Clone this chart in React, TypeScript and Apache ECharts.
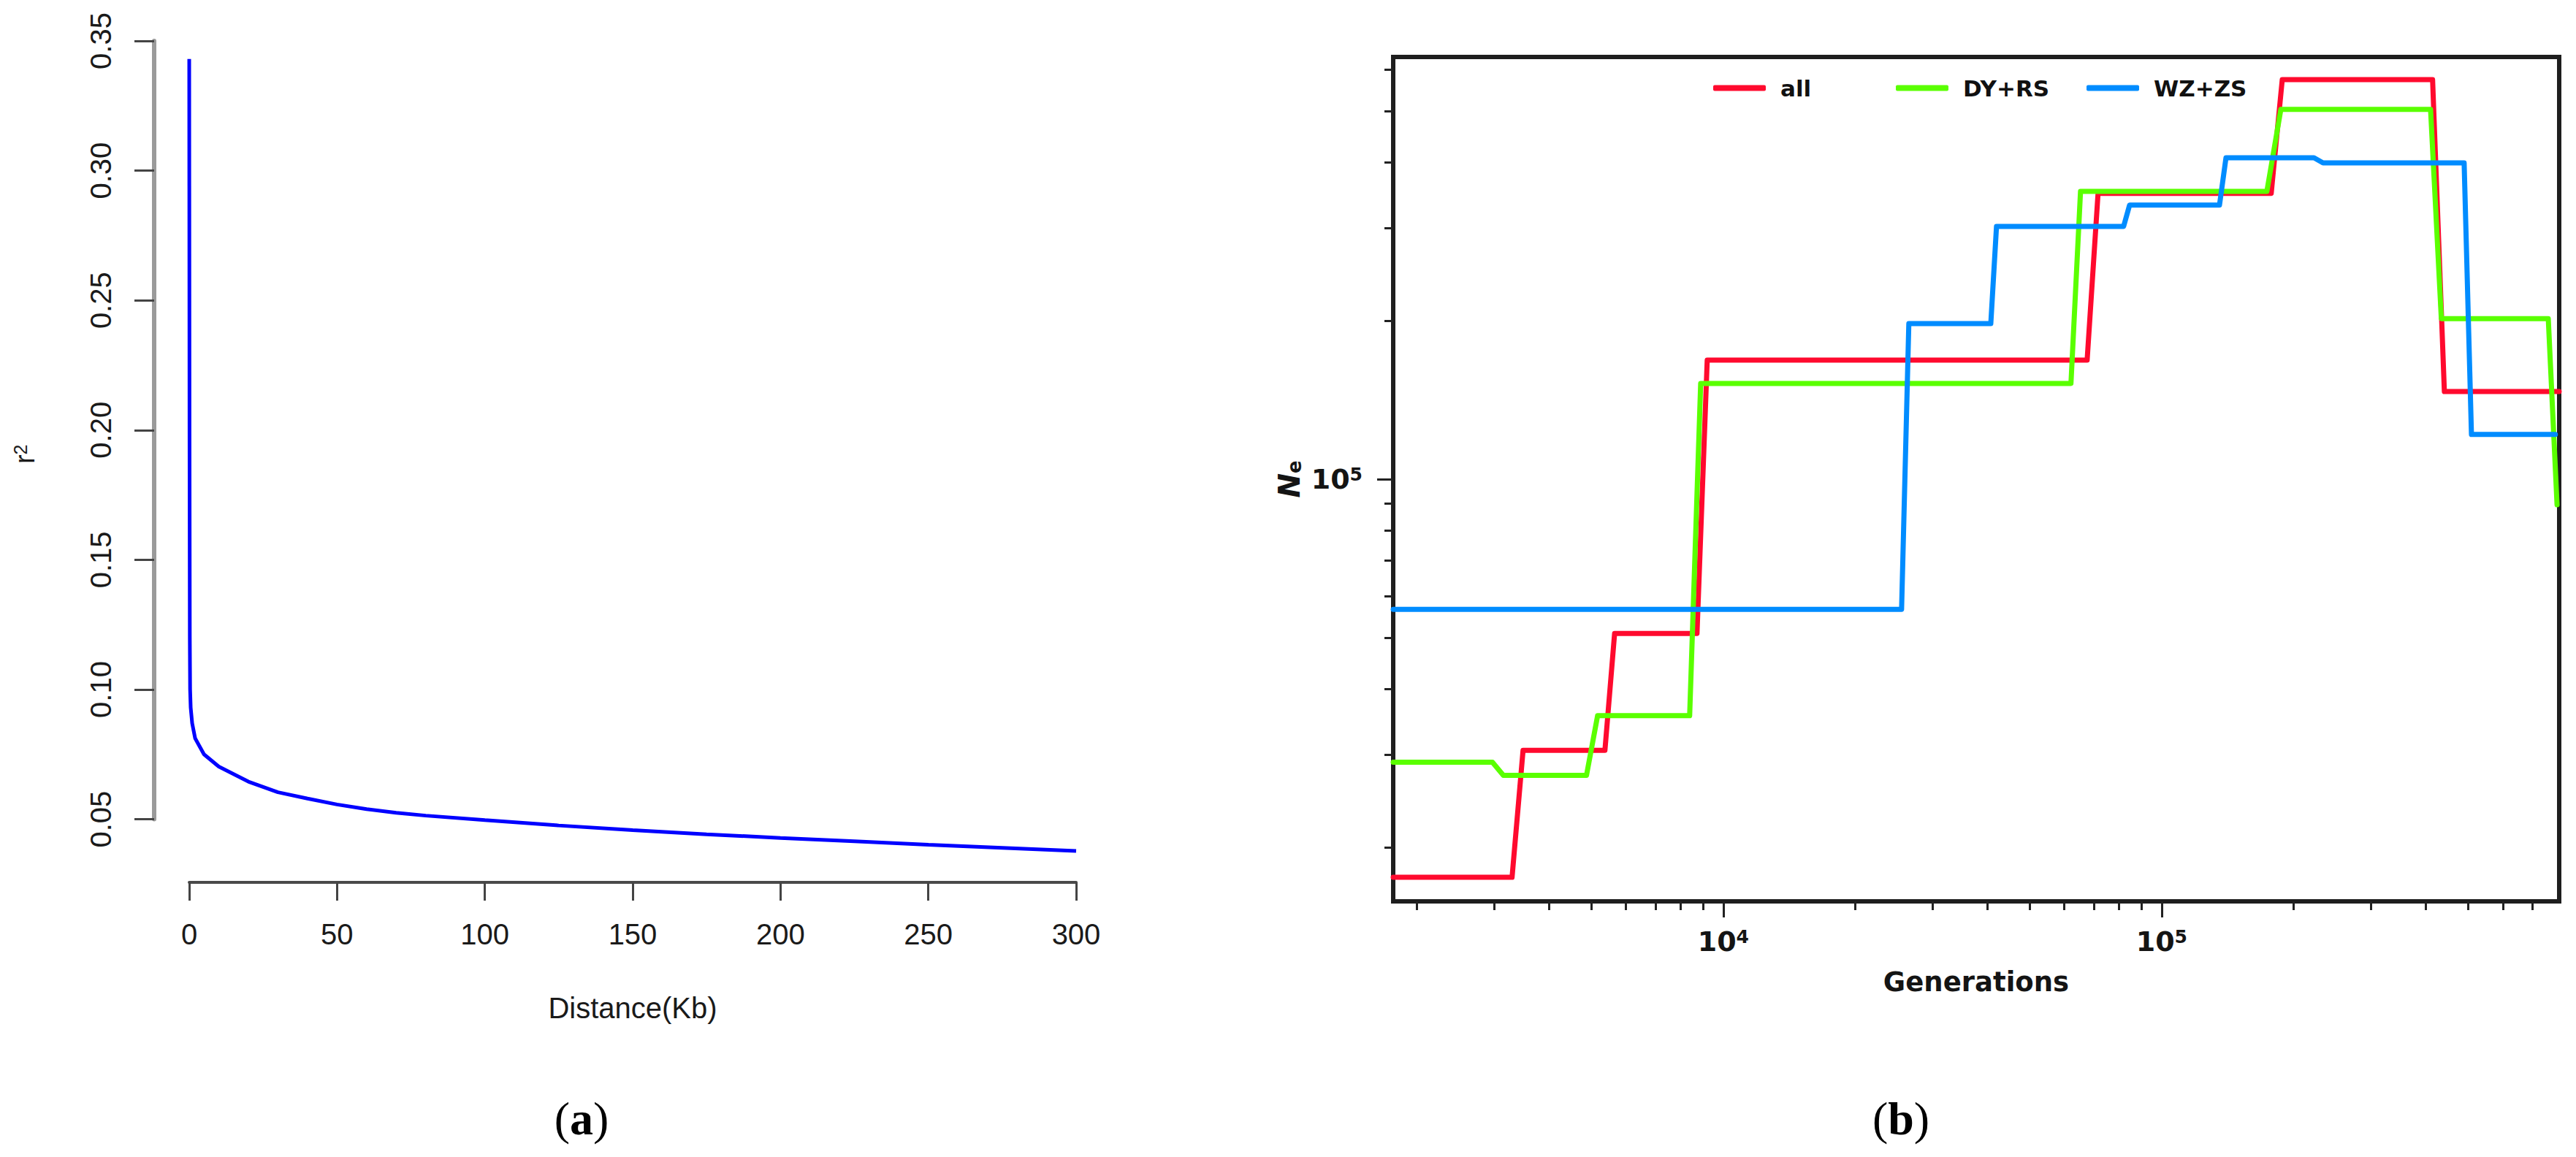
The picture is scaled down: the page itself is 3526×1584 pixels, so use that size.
import React, { useEffect, useRef } from 'react';
import * as echarts from 'echarts';

// ---------- Panel (a): LD decay ----------
const ldDistanceKb = [0, 0.1, 0.2, 0.3, 0.5, 1, 2, 5, 10, 20, 30, 40, 50, 60, 70, 80, 100, 125, 150, 175, 200, 225, 250, 275, 300];
const ldR2 = [0.343, 0.2, 0.12, 0.1, 0.093, 0.087, 0.0812, 0.075, 0.0703, 0.0645, 0.0604, 0.058, 0.0557, 0.0539, 0.0525, 0.0514, 0.0497, 0.0476, 0.0458, 0.0442, 0.0428, 0.0415, 0.0402, 0.039, 0.0378];

// ---------- Panel (b): effective population size history ----------
const allGenerations = [1766, 3297, 3493, 5370, 5650, 8710, 9190, 67610, 71600, 177800, 188400, 415000, 441500, 807000];
const allNe = [17540, 17540, 30550, 30550, 50950, 50950, 168300, 168300, 349000, 349000, 573600, 573600, 146700, 146700];

const dyrsGenerations = [1766, 2974, 3150, 4875, 5167, 8380, 8880, 62100, 65300, 173800, 187000, 410600, 434500, 762000, 798000];
const dyrsNe = [29020, 29020, 27400, 27400, 35550, 35550, 152000, 152000, 352000, 352000, 503600, 503600, 201800, 201800, 89400];

const wzzsGenerations = [1766, 25510, 26500, 40760, 42000, 81900, 84500, 135500, 140200, 222600, 233400, 489800, 509000, 791000];
const wzzsNe = [56620, 56620, 197400, 197400, 302000, 302000, 331500, 331500, 407600, 407600, 398600, 398600, 121600, 121600];

const seriesNames = ['all', 'DY+RS', 'WZ+ZS'];

const genMajorTicks = [10000, 100000];
const genMinorTicks = [2000, 3000, 4000, 5000, 6000, 7000, 8000, 9000, 20000, 30000, 40000, 50000, 60000, 70000, 80000, 90000, 200000, 300000, 400000, 500000, 600000, 700000];
const neMajorTicks = [100000];
const neMinorTicks = [20000, 30000, 40000, 50000, 60000, 70000, 80000, 90000, 200000, 300000, 400000, 500000, 600000];

const genRange = [1766, 807000];
const neRange = [15790, 633400];

const pairs = (xs: number[], ys: number[]) => xs.map((x, i) => [x, ys[i]]);

const SANS_A = 'Liberation Sans';
const SANS_B = 'DejaVu Sans';
const SERIF = 'Liberation Serif';

const RED = '#ff0a2e';
const GREEN = '#5aff00';
const BLUE = '#008cff';

const powLabel = (v: number) => `{n|10}{s|${Math.round(Math.log10(v))}}`;
const powRich = {
  n: { fontFamily: SANS_B, fontSize: 38, fontWeight: 'bold', color: '#141414' },
  s: { fontFamily: SANS_B, fontSize: 25, fontWeight: 'bold', color: '#141414', verticalAlign: 'top' },
};

export default function App() {
  const ref = useRef<HTMLDivElement>(null);

  useEffect(() => {
    document.body.style.margin = '0';
    const chart = echarts.init(ref.current!, null, { renderer: 'svg', width: 3526, height: 1584 });

    const legendBase = {
      itemWidth: 72,
      itemHeight: 8,
      icon: 'roundRect',
      selectedMode: false,
      padding: 0,
      top: 105,
      textStyle: { fontFamily: SANS_B, fontSize: 31, fontWeight: 'bold', color: '#111', padding: [0, 0, 0, 15] },
    };

    const option: any = {
      animation: false,
      backgroundColor: '#ffffff',
      grid: [
        { left: 259, top: 56, width: 1214, height: 1065.6, outerBoundsMode: 'none', containLabel: false },
        {
          left: 1907, top: 78, width: 1596, height: 1156, outerBoundsMode: 'none', containLabel: false,
          show: true, borderColor: '#1e1e1e', borderWidth: 6, backgroundColor: 'transparent',
        },
      ],
      legend: [
        { ...legendBase, data: [seriesNames[0]], left: 2345 },
        { ...legendBase, data: [seriesNames[1]], left: 2595 },
        { ...legendBase, data: [seriesNames[2]], left: 2856 },
      ],
      xAxis: [
        {
          type: 'value', gridIndex: 0, min: 0, max: 300, interval: 50, position: 'bottom', offset: 86.4,
          name: 'Distance(Kb)', nameLocation: 'middle', nameGap: 152,
          nameTextStyle: { fontFamily: SANS_A, fontSize: 40, color: '#1a1a1a' },
          axisLine: { show: true, onZero: false, lineStyle: { color: '#4a4a4a', width: 4 } },
          axisTick: { show: true, length: 25, lineStyle: { color: '#444', width: 3 } },
          axisLabel: { margin: 51, fontFamily: SANS_A, fontSize: 40, color: '#1a1a1a' },
          splitLine: { show: false },
        },
        {
          type: 'log', logBase: 10, gridIndex: 1, min: genRange[0], max: genRange[1], position: 'bottom',
          name: 'Generations', nameLocation: 'middle', nameGap: 92,
          nameTextStyle: { fontFamily: SANS_B, fontSize: 37, fontWeight: 'bold', color: '#141414' },
          axisLine: { show: false, onZero: false },
          axisTick: { show: true, customValues: genMajorTicks, length: 22, lineStyle: { color: '#222', width: 3 } },
          axisLabel: { show: true, customValues: genMajorTicks, margin: 36, formatter: powLabel, rich: powRich },
          splitLine: { show: false },
        },
        {
          type: 'log', logBase: 10, gridIndex: 1, min: genRange[0], max: genRange[1], position: 'bottom',
          axisLine: { show: false, onZero: false },
          axisTick: { show: true, customValues: genMinorTicks, length: 12, lineStyle: { color: '#222', width: 3 } },
          axisLabel: { show: false },
          splitLine: { show: false },
        },
      ],
      yAxis: [
        {
          type: 'value', gridIndex: 0, min: 0.05, max: 0.35, interval: 0.05, position: 'left', offset: 48,
          name: '{r|r}{s|2}', nameLocation: 'middle', nameRotate: 90, nameGap: 158,
          nameTextStyle: {
            padding: [0, 66, 0, 0],
            rich: {
              r: { fontFamily: SANS_A, fontSize: 38, color: '#1a1a1a' },
              s: { fontFamily: SANS_A, fontSize: 25, color: '#1a1a1a', verticalAlign: 'top' },
            },
          },
          axisLine: { show: true, onZero: false, lineStyle: { color: '#9a9a9a', width: 6 } },
          axisTick: { show: true, length: 27, lineStyle: { color: '#444', width: 3 } },
          axisLabel: {
            rotate: 90, margin: 53, fontFamily: SANS_A, fontSize: 40, color: '#1a1a1a',
            formatter: (v: number) => v.toFixed(2),
          },
          splitLine: { show: false },
        },
        {
          type: 'log', logBase: 10, gridIndex: 1, min: neRange[0], max: neRange[1], position: 'left',
          name: '{n|N}{e|e}', nameLocation: 'middle', nameRotate: 90, nameGap: 122,
          nameTextStyle: {
            rich: {
              n: { fontFamily: SANS_B, fontSize: 40, fontStyle: 'italic', fontWeight: 'bold', color: '#141414' },
              e: { fontFamily: SANS_B, fontSize: 26, fontWeight: 'bold', color: '#141414', verticalAlign: 'bottom' },
            },
          },
          axisLine: { show: false, onZero: false },
          axisTick: { show: true, customValues: neMajorTicks, length: 22, lineStyle: { color: '#222', width: 3 } },
          axisLabel: { show: true, customValues: neMajorTicks, margin: 42, formatter: powLabel, rich: powRich },
          splitLine: { show: false },
        },
        {
          type: 'log', logBase: 10, gridIndex: 1, min: neRange[0], max: neRange[1], position: 'left',
          axisLine: { show: false, onZero: false },
          axisTick: { show: true, customValues: neMinorTicks, length: 12, lineStyle: { color: '#222', width: 3 } },
          axisLabel: { show: false },
          splitLine: { show: false },
        },
      ],
      series: [
        {
          name: 'r2', type: 'line', xAxisIndex: 0, yAxisIndex: 0,
          data: pairs(ldDistanceKb, ldR2), symbol: 'none', smooth: false, clip: false,
          lineStyle: { color: '#0000ff', width: 5 }, itemStyle: { color: '#0000ff' },
        },
        {
          name: seriesNames[0], type: 'line', xAxisIndex: 1, yAxisIndex: 1,
          data: pairs(allGenerations, allNe), symbol: 'none', clip: true, z: 2,
          lineStyle: { color: RED, width: 7, cap: 'round', join: 'round' }, itemStyle: { color: RED },
        },
        {
          name: seriesNames[1], type: 'line', xAxisIndex: 1, yAxisIndex: 1,
          data: pairs(dyrsGenerations, dyrsNe), symbol: 'none', clip: true, z: 3,
          lineStyle: { color: GREEN, width: 7, cap: 'round', join: 'round' }, itemStyle: { color: GREEN },
        },
        {
          name: seriesNames[2], type: 'line', xAxisIndex: 1, yAxisIndex: 1,
          data: pairs(wzzsGenerations, wzzsNe), symbol: 'none', clip: true, z: 4,
          lineStyle: { color: BLUE, width: 7, cap: 'round', join: 'round' }, itemStyle: { color: BLUE },
        },
      ],
      graphic: [
        {
          type: 'text', x: 796, y: 1531,
          style: {
            text: '{p|(}{b|a}{p|)}', align: 'center', verticalAlign: 'middle',
            rich: {
              p: { fontFamily: SERIF, fontSize: 64, color: '#000' },
              b: { fontFamily: SERIF, fontSize: 64, fontWeight: 'bold', color: '#000' },
            },
          },
        },
        {
          type: 'text', x: 2602, y: 1531,
          style: {
            text: '{p|(}{b|b}{p|)}', align: 'center', verticalAlign: 'middle',
            rich: {
              p: { fontFamily: SERIF, fontSize: 64, color: '#000' },
              b: { fontFamily: SERIF, fontSize: 64, fontWeight: 'bold', color: '#000' },
            },
          },
        },
      ],
    };

    chart.setOption(option);
    return () => chart.dispose();
  }, []);

  return (
    <div
      ref={ref}
      style={{ position: 'fixed', left: 0, top: 0, width: 3526, height: 1584, background: '#fff' }}
    />
  );
}
